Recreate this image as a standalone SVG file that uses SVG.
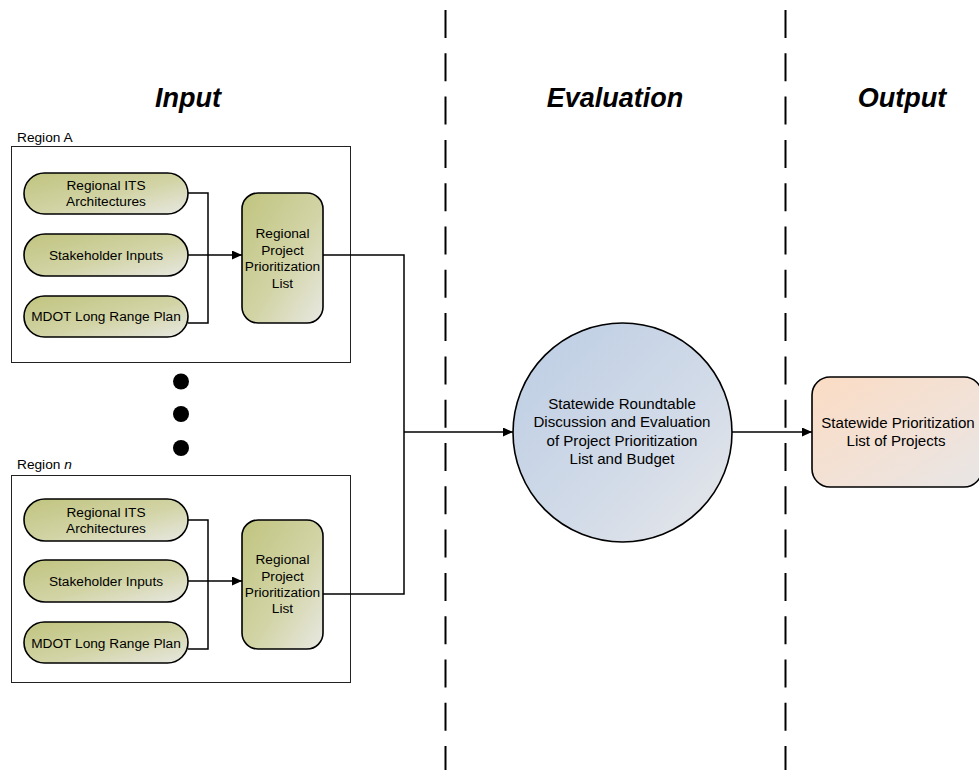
<svg xmlns="http://www.w3.org/2000/svg" width="979" height="770" viewBox="0 0 979 770">
  <style>
    text { font-family: "Liberation Sans", Arial, sans-serif; fill: #000; }
    .hdr { font-size: 27px; font-weight: bold; font-style: italic; text-anchor: middle; }
    .lbl { font-size: 13.7px; text-anchor: middle; }
    .big { font-size: 15.1px; text-anchor: middle; }
    .rlbl { font-size: 13.7px; }
    .region { fill: #fff; stroke: #222; stroke-width: 1; }
    .pill { fill: url(#olive); stroke: #000; stroke-width: 1.6; }
    .lane { stroke: #000; stroke-width: 2; stroke-dasharray: 28 15.3; fill: none; }
    .wire { stroke: #000; stroke-width: 1.5; fill: none; }
    .arrow { stroke: #000; stroke-width: 1.5; fill: none; marker-end: url(#head); }
  </style>
  <defs>
    <linearGradient id="olive" x1="0" y1="0" x2="1" y2="1">
      <stop offset="0" stop-color="#c0c47e"/>
      <stop offset="0.55" stop-color="#d2d4a6"/>
      <stop offset="1" stop-color="#e8e8e2"/>
    </linearGradient>
    <linearGradient id="blue" x1="0" y1="0" x2="1" y2="1">
      <stop offset="0" stop-color="#bccde4"/>
      <stop offset="0.6" stop-color="#d2dbe8"/>
      <stop offset="1" stop-color="#e8e8ea"/>
    </linearGradient>
    <linearGradient id="peach" x1="0" y1="0" x2="1" y2="1">
      <stop offset="0" stop-color="#fbdcc4"/>
      <stop offset="0.6" stop-color="#f1e2d8"/>
      <stop offset="1" stop-color="#e8e6e6"/>
    </linearGradient>
    <marker id="head" viewBox="0 0 10 9" refX="10" refY="4.5" markerWidth="10" markerHeight="9" markerUnits="userSpaceOnUse" orient="auto">
      <path d="M0,0 L10,4.5 L0,9 Z" fill="#000"/>
    </marker>
  </defs>

  <!-- swim-lane dividers -->
  <g id="lanes">
    <line class="lane" x1="445.5" y1="10" x2="445.5" y2="770"/>
    <line class="lane" x1="785.5" y1="10" x2="785.5" y2="770"/>
  </g>

  <!-- column headings -->
  <g id="headings">
    <text class="hdr" x="188" y="107">Input</text>
    <text class="hdr" x="615" y="107">Evaluation</text>
    <text class="hdr" x="902" y="107">Output</text>
  </g>

  <!-- Region A -->
  <g id="regionA">
    <text class="rlbl" x="17" y="142">Region A</text>
    <rect class="region" x="11.5" y="146.5" width="339" height="216"/>
  </g>
  <g id="regionA-its">
    <rect class="pill" x="24" y="173" width="164" height="41" rx="20.5"/>
    <text class="lbl" x="106" y="190">Regional ITS</text>
    <text class="lbl" x="106" y="206">Architectures</text>
  </g>
  <g id="regionA-stakeholder">
    <rect class="pill" x="24" y="234" width="164" height="42" rx="21"/>
    <text class="lbl" x="106" y="260">Stakeholder Inputs</text>
  </g>
  <g id="regionA-mdot">
    <rect class="pill" x="24" y="296" width="164" height="41" rx="20.5"/>
    <text class="lbl" x="106" y="321">MDOT Long Range Plan</text>
  </g>
  <g id="regionA-list">
    <rect class="pill" x="242" y="193" width="81" height="130" rx="16"/>
    <text class="lbl" x="282.5" y="238">Regional</text>
    <text class="lbl" x="282.5" y="254.5">Project</text>
    <text class="lbl" x="282.5" y="271">Prioritization</text>
    <text class="lbl" x="282.5" y="288">List</text>
  </g>

  <!-- more regions -->
  <g id="ellipsis">
    <circle cx="181" cy="381.5" r="8"/>
    <circle cx="181" cy="414" r="8"/>
    <circle cx="181" cy="448" r="8"/>
  </g>

  <!-- Region n -->
  <g id="regionN">
    <text class="rlbl" x="17" y="469">Region <tspan font-style="italic">n</tspan></text>
    <rect class="region" x="11.5" y="475.5" width="339" height="207"/>
  </g>
  <g id="regionN-its">
    <rect class="pill" x="24" y="499" width="164" height="42" rx="21"/>
    <text class="lbl" x="106" y="517">Regional ITS</text>
    <text class="lbl" x="106" y="533">Architectures</text>
  </g>
  <g id="regionN-stakeholder">
    <rect class="pill" x="24" y="560" width="164" height="42" rx="21"/>
    <text class="lbl" x="106" y="586">Stakeholder Inputs</text>
  </g>
  <g id="regionN-mdot">
    <rect class="pill" x="24" y="622" width="164" height="41" rx="20.5"/>
    <text class="lbl" x="106" y="647.5">MDOT Long Range Plan</text>
  </g>
  <g id="regionN-list">
    <rect class="pill" x="242" y="520" width="81" height="129" rx="16"/>
    <text class="lbl" x="282.5" y="564">Regional</text>
    <text class="lbl" x="282.5" y="580.5">Project</text>
    <text class="lbl" x="282.5" y="597">Prioritization</text>
    <text class="lbl" x="282.5" y="613">List</text>
  </g>

  <!-- statewide evaluation -->
  <g id="roundtable">
    <circle cx="622.5" cy="432.5" r="109.5" fill="url(#blue)" stroke="#000" stroke-width="1.6"/>
    <text class="big" x="622" y="408.5">Statewide Roundtable</text>
    <text class="big" x="622" y="427">Discussion and Evaluation</text>
    <text class="big" x="622" y="445.5">of Project Prioritization</text>
    <text class="big" x="622" y="464">List and Budget</text>
  </g>

  <!-- statewide output -->
  <g id="statewide-list">
    <rect x="812" y="377" width="170" height="110" rx="18" fill="url(#peach)" stroke="#000" stroke-width="1.6"/>
    <text class="big" x="898" y="427.5">Statewide Prioritization</text>
    <text class="big" x="896" y="445.5">List of Projects</text>
  </g>

  <!-- connectors -->
  <g id="connectors">
    <polyline class="wire" points="188,193 208,193 208,323 188,323"/>
    <line class="arrow" x1="188" y1="255" x2="242" y2="255"/>
    <polyline class="wire" points="188,520 208,520 208,649 188,649"/>
    <line class="arrow" x1="188" y1="581" x2="242" y2="581"/>
    <polyline class="wire" points="323,255 404,255 404,594 323,594"/>
    <line class="arrow" x1="404" y1="432" x2="513" y2="432"/>
    <line class="arrow" x1="732" y1="432" x2="812" y2="432"/>
  </g>
</svg>
